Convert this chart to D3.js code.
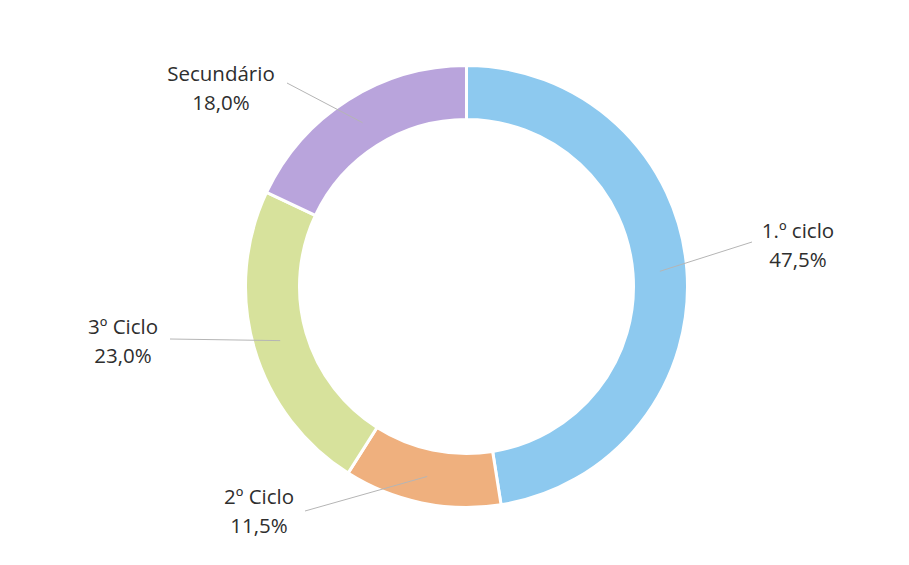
<!DOCTYPE html>
<html>
<head>
<meta charset="utf-8">
<script src="https://cdn.jsdelivr.net/npm/d3@7"></script>
<style>
  html, body { margin: 0; padding: 0; background: #ffffff; }
  svg { display: block; }
</style>
</head>
<body>
<svg id="chart" width="909" height="565"></svg>
<script>
// Distribution by school level (share of total, %)
const categories = ["1.º ciclo", "2º Ciclo", "3º Ciclo", "Secundário"];
const values = [47.5, 11.5, 23.0, 18.0];
const valueLabels = ["47,5%", "11,5%", "23,0%", "18,0%"];
const colors = ["#8dc9ef", "#efb07e", "#d7e29c", "#b9a4dc"];

// Label placement (centre of the two text lines) and where each leader line meets it
const labelPos = [
  { x: 798, y: 245, lx: 752, ly: 242 },
  { x: 259, y: 511, lx: 305, ly: 511 },
  { x: 123, y: 341, lx: 170, ly: 339 },
  { x: 221, y: 88,  lx: 287, ly: 83  }
];

const cx = 466.5, cy = 286.5;
const outerR = 221, innerR = 167;

const svg = d3.select("#chart");
const g = svg.append("g").attr("transform", `translate(${cx},${cy})`);

const pie = d3.pie().sort(null).value(d => d.value);
const arc = d3.arc().innerRadius(innerR).outerRadius(outerR);
const midArc = d3.arc().innerRadius((innerR + outerR) / 2).outerRadius((innerR + outerR) / 2);

const data = categories.map((c, i) => ({ name: c, value: values[i], label: valueLabels[i], color: colors[i], pos: labelPos[i] }));
const arcs = pie(data);

g.selectAll("path.slice")
  .data(arcs)
  .join("path")
  .attr("class", "slice")
  .attr("d", arc)
  .attr("fill", d => d.data.color)
  .attr("stroke", "#ffffff")
  .attr("stroke-width", 3)
  .attr("stroke-linejoin", "miter");

// Leader lines from the ring centre-line to each label
g.selectAll("polyline.leader")
  .data(arcs)
  .join("polyline")
  .attr("class", "leader")
  .attr("fill", "none")
  .attr("stroke", "#b5b5b5")
  .attr("stroke-width", 1)
  .attr("points", d => {
    const [mx, my] = midArc.centroid(d);
    const p = d.data.pos;
    return [[mx, my], [p.lx - cx, p.ly - cy]].map(q => q.join(",")).join(" ");
  });

// Category name and percentage
const labels = svg.selectAll("text.lab")
  .data(arcs)
  .join("text")
  .attr("class", "lab")
  .attr("text-anchor", "middle")
  .attr("font-family", "'Open Sans', Lato, sans-serif")
  .attr("font-size", 20.5)
  .attr("fill", "#2e2e2e");

labels.append("tspan")
  .attr("x", d => d.data.pos.x)
  .attr("y", d => d.data.pos.y - 14.5)
  .attr("dy", "0.35em")
  .text(d => d.data.name);

labels.append("tspan")
  .attr("x", d => d.data.pos.x)
  .attr("y", d => d.data.pos.y + 14.5)
  .attr("dy", "0.35em")
  .text(d => d.data.label);
</script>
</body>
</html>
